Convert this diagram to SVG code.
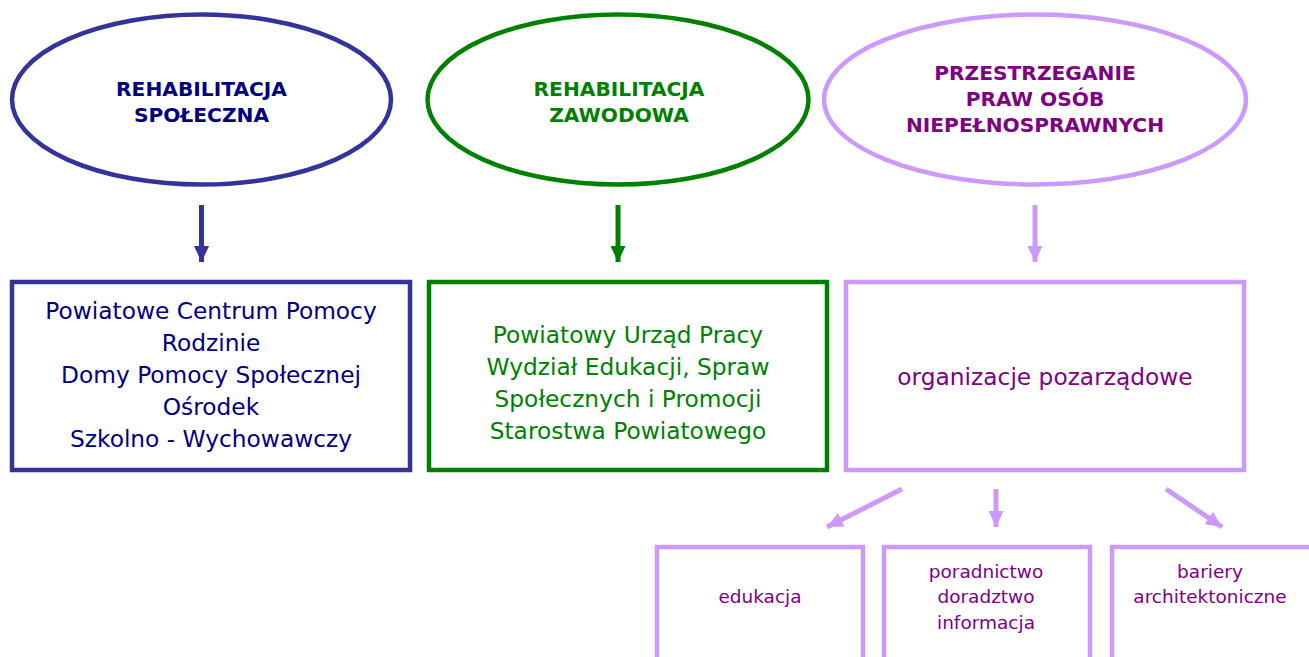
<svg xmlns="http://www.w3.org/2000/svg" width="1309" height="657" viewBox="0 0 1309 657">
<defs>
<style>
.t{font-family:"DejaVu Sans",Verdana,sans-serif;text-anchor:middle}
.h{font-size:20.2px;font-weight:bold}
.b{font-size:23.3px}
.s{font-size:18.5px}
.blue{stroke:#333399}
.green{stroke:#008000}
.lil{stroke:#cc99ff}
.node{fill:#ffffff;stroke-width:4.5}
.conn{stroke-width:5;fill:none}
</style>
<marker id="aB" markerUnits="userSpaceOnUse" markerWidth="16" markerHeight="15" refX="16" refY="7.5" orient="auto"><path d="M0,0 L16,7.5 L0,15 z" fill="#333399"/></marker>
<marker id="aG" markerUnits="userSpaceOnUse" markerWidth="16" markerHeight="15" refX="16" refY="7.5" orient="auto"><path d="M0,0 L16,7.5 L0,15 z" fill="#008000"/></marker>
<marker id="aL" markerUnits="userSpaceOnUse" markerWidth="16" markerHeight="15" refX="16" refY="7.5" orient="auto"><path d="M0,0 L16,7.5 L0,15 z" fill="#cc99ff"/></marker>
</defs>
<rect width="1309" height="657" fill="#ffffff"/>
<g id="connectors">
<line class="conn blue" x1="201.5" y1="205" x2="201.5" y2="262" marker-end="url(#aB)"/>
<line class="conn green" x1="618" y1="205" x2="618" y2="262" marker-end="url(#aG)"/>
<line class="conn lil" x1="1035" y1="205" x2="1035" y2="262" marker-end="url(#aL)"/>
<line class="conn lil" x1="902" y1="489" x2="827" y2="527" marker-end="url(#aL)"/>
<line class="conn lil" x1="996" y1="489" x2="996" y2="527" marker-end="url(#aL)"/>
<line class="conn lil" x1="1166" y1="489" x2="1222" y2="527" marker-end="url(#aL)"/>
</g>
<g id="e1">
<ellipse class="node blue" cx="201.5" cy="99.5" rx="189.5" ry="85"/>
<text class="t h" fill="#000080" x="201.5" y="96">REHABILITACJA</text>
<text class="t h" fill="#000080" x="201.5" y="122">SPOŁECZNA</text>
</g>
<g id="e2">
<ellipse class="node green" cx="618" cy="99.5" rx="190.5" ry="85"/>
<text class="t h" fill="#008000" x="619" y="96">REHABILITACJA</text>
<text class="t h" fill="#008000" x="619" y="122">ZAWODOWA</text>
</g>
<g id="e3">
<ellipse class="node lil" cx="1035" cy="99.5" rx="211" ry="85"/>
<text class="t h" fill="#800080" x="1035" y="80">PRZESTRZEGANIE</text>
<text class="t h" fill="#800080" x="1035" y="106">PRAW OSÓB</text>
<text class="t h" fill="#800080" x="1035" y="132">NIEPEŁNOSPRAWNYCH</text>
</g>
<g id="b1">
<rect class="node blue" x="12" y="282" width="398" height="188"/>
<text class="t b" fill="#000080" x="211" y="319">Powiatowe Centrum Pomocy</text>
<text class="t b" fill="#000080" x="211" y="351">Rodzinie</text>
<text class="t b" fill="#000080" x="211" y="383">Domy Pomocy Społecznej</text>
<text class="t b" fill="#000080" x="211" y="415">Ośrodek</text>
<text class="t b" fill="#000080" x="211" y="447">Szkolno - Wychowawczy</text>
</g>
<g id="b2">
<rect class="node green" x="429" y="282" width="398" height="188"/>
<text class="t b" fill="#008000" x="628" y="343">Powiatowy Urząd Pracy</text>
<text class="t b" fill="#008000" x="628" y="375">Wydział Edukacji, Spraw</text>
<text class="t b" fill="#008000" x="628" y="407">Społecznych i Promocji</text>
<text class="t b" fill="#008000" x="628" y="439">Starostwa Powiatowego</text>
</g>
<g id="b3">
<rect class="node lil" x="846" y="282" width="398" height="188"/>
<text class="t b" fill="#800080" x="1045" y="385">organizacje pozarządowe</text>
</g>
<g id="c1">
<rect class="node lil" x="657" y="547" width="206" height="130"/>
<text class="t s" fill="#800080" x="760" y="603">edukacja</text>
</g>
<g id="c2">
<rect class="node lil" x="884" y="547" width="206" height="130"/>
<text class="t s" fill="#800080" x="986" y="578">poradnictwo</text>
<text class="t s" fill="#800080" x="986" y="603">doradztwo</text>
<text class="t s" fill="#800080" x="986" y="629">informacja</text>
</g>
<g id="c3">
<rect class="node lil" x="1112" y="547" width="210" height="130"/>
<text class="t s" fill="#800080" x="1210" y="578">bariery</text>
<text class="t s" fill="#800080" x="1210" y="603">architektoniczne</text>
</g>
</svg>
